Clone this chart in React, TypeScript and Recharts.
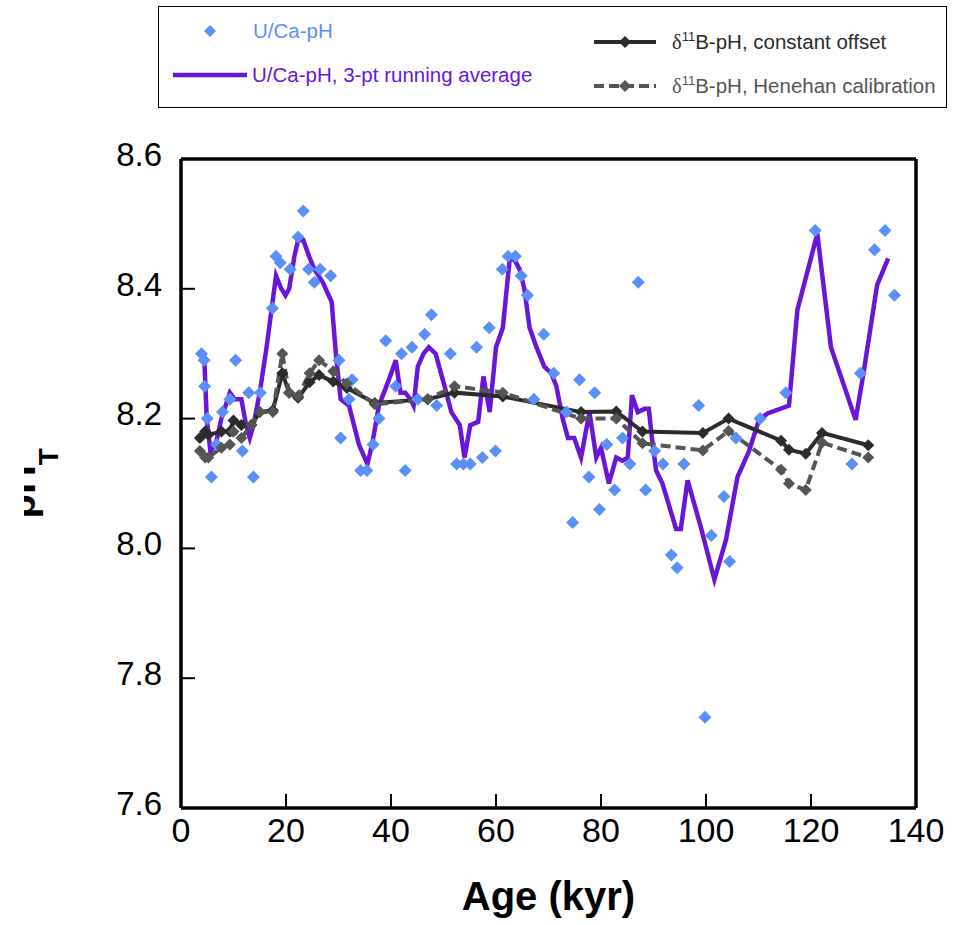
import React from 'react';
import {
  ComposedChart,
  Line,
  Scatter,
  XAxis,
  YAxis,
  ReferenceLine,
  Legend,
} from 'recharts';

// U/Ca-derived pH, individual samples
const ucaAge = [
  3.9, 4.4, 4.5, 5.0, 5.8, 6.8, 7.9, 9.3, 10.4, 11.7, 12.9, 13.8, 15.1, 17.4, 18.1, 18.9, 20.8, 22.3,
  23.3, 24.3, 25.4, 26.5, 28.5, 30.1, 30.4, 32.0, 32.6, 34.2, 35.4, 36.6, 37.7, 39.0, 40.9, 42.0, 42.7,
  44.0, 45.1, 46.4, 47.7, 48.7, 51.3, 52.5, 53.8, 55.1, 56.3, 57.4, 58.7, 59.9, 61.2, 62.3, 63.7, 64.8,
  66.0, 67.2, 69.1, 71.0, 73.4, 74.6, 75.9, 77.7, 78.8, 79.7, 81.1, 82.6, 84.1, 85.5, 87.1, 88.5, 90.2,
  91.8, 93.4, 94.5, 95.8, 98.6, 99.8, 101.0, 103.4, 104.5, 105.7, 110.3, 115.2, 120.8, 127.8, 129.4,
  132.1, 134.1, 135.9,
];
const ucaPh = [
  8.3, 8.29, 8.25, 8.2, 8.11, 8.16, 8.21, 8.23, 8.29, 8.15, 8.24, 8.11, 8.24, 8.37, 8.45, 8.44, 8.43, 8.48,
  8.52, 8.43, 8.41, 8.43, 8.42, 8.29, 8.17, 8.23, 8.26, 8.12, 8.12, 8.16, 8.2, 8.32, 8.25, 8.3, 8.12,
  8.31, 8.23, 8.33, 8.36, 8.22, 8.3, 8.13, 8.13, 8.13, 8.31, 8.14, 8.34, 8.15, 8.43, 8.45, 8.45, 8.42,
  8.39, 8.23, 8.33, 8.27, 8.21, 8.04, 8.26, 8.11, 8.24, 8.06, 8.16, 8.09, 8.17, 8.13, 8.41, 8.09, 8.15,
  8.13, 7.99, 7.97, 8.13, 8.22, 7.74, 8.02, 8.08, 7.98, 8.17, 8.2, 8.24, 8.49, 8.13, 8.27,
  8.46, 8.49, 8.39,
];

// U/Ca-pH, 3-pt running average
const avgAge = [
  4.4, 4.9, 5.6, 6.6, 7.7, 9.3, 10.2, 11.5, 12.4, 13.1, 13.8, 15.0, 16.3, 18.1, 19.1, 19.9, 20.6, 21.6,
  22.3, 23.3, 24.4, 25.4, 27.0, 28.7, 29.5, 30.4, 32.0, 33.9, 35.5, 36.4, 37.7, 39.6, 40.9, 41.8, 42.7,
  43.7, 44.3, 45.1, 46.2, 47.2, 48.5, 50.2, 51.5, 53.1, 54.0, 55.1, 56.6, 57.6, 58.8, 60.0, 61.3, 62.6,
  63.5, 64.5, 65.4, 66.4, 67.7, 69.2, 70.5, 71.5, 72.7, 73.7, 74.9, 76.2, 77.8, 79.1, 80.0, 81.5, 82.9,
  84.1, 85.1, 85.9, 87.0, 88.3, 89.1, 89.7, 90.5, 91.7, 93.0, 94.3, 95.2, 96.5, 99.0, 101.6, 103.8,
  106.0, 108.2, 110.1, 111.7, 115.8, 117.4, 121.2, 123.8, 128.5, 130.0, 132.6, 134.7,
];
const avgPh = [
  8.3, 8.2, 8.15, 8.16, 8.2, 8.24, 8.23, 8.23, 8.19, 8.17, 8.19, 8.24, 8.31, 8.42, 8.4, 8.39, 8.4, 8.45,
  8.475, 8.475, 8.45, 8.43, 8.41, 8.38, 8.3, 8.23, 8.22, 8.16, 8.13, 8.16, 8.22, 8.26, 8.29, 8.24, 8.24,
  8.23, 8.22, 8.28, 8.3, 8.31, 8.3, 8.25, 8.21, 8.19, 8.14, 8.19, 8.195, 8.265, 8.21, 8.31, 8.34, 8.445,
  8.445, 8.43, 8.4, 8.34, 8.31, 8.28, 8.27, 8.25, 8.2, 8.17, 8.17, 8.14, 8.21, 8.14, 8.155, 8.1, 8.14,
  8.135, 8.14, 8.236, 8.21, 8.215, 8.215, 8.17, 8.12, 8.1, 8.065, 8.03, 8.03, 8.105, 8.033, 7.952, 8.013,
  8.11, 8.15, 8.198, 8.208, 8.22, 8.367, 8.485, 8.31, 8.198, 8.27, 8.406, 8.447,
];

// d11B-pH, both calibrations share the same sample ages
const boronAge = [
  3.6, 4.6, 5.2, 7.7, 9.3, 10.0, 11.5, 13.4, 15.0, 17.5, 19.3, 20.6, 22.3, 24.5, 26.3, 29.0, 31.6, 36.9,
  47.0, 52.1, 61.3, 76.2, 82.9, 87.9, 99.4, 104.3, 114.3, 115.8, 119.0, 122.1, 130.9,
];
const boronOffset = [
  8.17, 8.18, 8.175, 8.18, 8.18, 8.197, 8.19, 8.19, 8.21, 8.213, 8.27, 8.24, 8.232, 8.256, 8.267, 8.257,
  8.247, 8.224, 8.23, 8.24, 8.234, 8.21, 8.211, 8.18, 8.178, 8.2, 8.166, 8.152, 8.146, 8.178, 8.159,
];
const boronHenehan = [
  8.15, 8.14, 8.14, 8.155, 8.16, 8.18, 8.17, 8.19, 8.21, 8.21, 8.3, 8.24, 8.235, 8.27, 8.29, 8.273,
  8.254, 8.222, 8.23, 8.25, 8.24, 8.2, 8.2, 8.162, 8.151, 8.181, 8.121, 8.1, 8.09, 8.163, 8.14,
];

const xTicks = [0, 20, 40, 60, 80, 100, 120, 140];
const yTicks = [7.6, 7.8, 8.0, 8.2, 8.4, 8.6];

const BLUE = '#5b8ff9';
const PURPLE = '#6a16d8';
const DARK = '#2b2b2b';
const GREY = '#555555';
const FONT = '"Liberation Sans", Arial, Helvetica, sans-serif';
const TICK_LEN = 14;

const diamondPoints = (cx: number, cy: number, r: number) =>
  `${cx},${cy - r} ${cx + r},${cy} ${cx},${cy + r} ${cx - r},${cy}`;

const BlueDiamond = (props: any) => {
  const { cx, cy } = props;
  if (cx == null || cy == null) return null;
  return <polygon points={diamondPoints(cx, cy, 6.5)} fill={BLUE} />;
};

const makeDot = (color: string) => (props: any) => {
  const { cx, cy, index } = props;
  if (cx == null || cy == null) return <g key={index} />;
  return <polygon key={index} points={diamondPoints(cx, cy, 6)} fill={color} />;
};

// ticks point into the plot, so draw the tick line together with the label
const X_MARGIN = 10;
const XTick = (props: any) => {
  const { x, y, payload } = props;
  const axisY = y - X_MARGIN;
  return (
    <g>
      <line x1={x} x2={x} y1={axisY} y2={axisY - TICK_LEN} stroke="#000" strokeWidth={2} />
      <text x={x} y={y} dy="0.72em" textAnchor="middle" fontSize={34} fontFamily={FONT} fill="#000">
        {payload.value}
      </text>
    </g>
  );
};

const Y_MARGIN = 19;
const YTick = (props: any) => {
  const { x, y, payload } = props;
  const axisX = x + Y_MARGIN;
  return (
    <g>
      <line x1={axisX} x2={axisX + TICK_LEN} y1={y} y2={y} stroke="#000" strokeWidth={2} />
      <text x={x} y={y - 5} dy="0.355em" textAnchor="end" fontSize={33} fontFamily={FONT} fill="#000">
        {Number(payload.value).toFixed(1)}
      </text>
    </g>
  );
};

const PhLabel = (props: any) => {
  const vb = props.viewBox || { x: 81, y: 159, width: 100, height: 649 };
  const bx = vb.x - 46;
  const by = vb.y + vb.height / 2 + 35;
  return (
    <g clipPath="url(#ph-clip)">
      <defs>
        <clipPath id="ph-clip">
          <rect x={vb.x - 57} y={0} width={200} height={925} />
        </clipPath>
      </defs>
      <text
        transform={`translate(${bx},${by}) rotate(-90)`}
        fontFamily={FONT}
        fontWeight="bold"
        fontSize={40}
        fill="#000"
      >
        pH
        <tspan dy={23} fontSize={28}>T</tspan>
      </text>
    </g>
  );
};

const AgeLabel = (props: any) => {
  const vb = props.viewBox || { x: 181, y: 808, width: 735, height: 117 };
  return (
    <text
      x={vb.x + vb.width / 2}
      y={vb.y + 102}
      textAnchor="middle"
      fontFamily={FONT}
      fontWeight="bold"
      fontSize={40}
      fill="#000"
    >
      Age (kyr)
    </text>
  );
};

const legendText = (color: string): React.CSSProperties => ({
  position: 'absolute',
  color,
  whiteSpace: 'nowrap',
  transform: 'translateY(-50%)',
  lineHeight: '24px',
});

const Delta = () => (
  <>
    <span style={{ fontFamily: '"Liberation Serif", serif' }}>δ</span>
    <sup style={{ fontSize: 13, verticalAlign: 'top', lineHeight: '14px' }}>11</sup>
  </>
);

const LegendBox = () => (
  <div
    style={{
      position: 'relative',
      width: 789,
      height: 102,
      border: '1.5px solid #000',
      boxSizing: 'border-box',
      background: '#fff',
      fontFamily: FONT,
      fontSize: 20.5,
    }}
  >
    <svg width={786} height={99} style={{ position: 'absolute', left: 0, top: 0 }}>
      <polygon points={diamondPoints(51, 24, 6)} fill={BLUE} />
      <line x1={14} x2={88} y1={68} y2={68} stroke={PURPLE} strokeWidth={4.5} />
      <line x1={435} x2={497} y1={35} y2={35} stroke={DARK} strokeWidth={4} />
      <polygon points={diamondPoints(466, 35, 6)} fill={DARK} />
      <line x1={435} x2={497} y1={79} y2={79} stroke={GREY} strokeWidth={4} strokeDasharray="10 5" />
      <polygon points={diamondPoints(466, 79, 6)} fill={GREY} />
    </svg>
    <span style={{ ...legendText(BLUE), left: 94, top: 24 }}>U/Ca-pH</span>
    <span style={{ ...legendText(PURPLE), left: 93, top: 68 }}>U/Ca-pH, 3-pt running average</span>
    <span style={{ ...legendText(DARK), left: 513, top: 35 }}>
      <Delta />B-pH, constant offset
    </span>
    <span style={{ ...legendText(GREY), left: 513, top: 79 }}>
      <Delta />B-pH, Henehan calibration
    </span>
  </div>
);

const ucaData = ucaAge.map((age, i) => ({ age, ph: ucaPh[i] }));
const avgData = avgAge.map((age, i) => ({ age, ph: avgPh[i] }));
const offsetData = boronAge.map((age, i) => ({ age, ph: boronOffset[i] }));
const henehanData = boronAge.map((age, i) => ({ age, ph: boronHenehan[i] }));

const App: React.FC = () => {
  return (
    <div style={{ position: 'absolute', left: 0, top: 0, width: 965, height: 925, background: '#fff' }}>
      <ComposedChart width={965} height={925} margin={{ top: 159, right: 49, bottom: 0, left: 81 }}>
        <XAxis
          xAxisId={0}
          type="number"
          dataKey="age"
          domain={[0, 140]}
          ticks={xTicks}
          allowDataOverflow
          height={117}
          axisLine={{ stroke: '#000', strokeWidth: 3.5 }}
          tickLine={false}
          tickSize={0}
          tickMargin={X_MARGIN}
          tick={<XTick />}
          label={<AgeLabel />}
        />
        <YAxis
          yAxisId={0}
          type="number"
          domain={[7.6, 8.6]}
          ticks={yTicks}
          allowDataOverflow
          width={100}
          axisLine={{ stroke: '#000', strokeWidth: 3.5 }}
          tickLine={false}
          tickSize={0}
          tickMargin={Y_MARGIN}
          tick={<YTick />}
          label={<PhLabel />}
        />
        <ReferenceLine y={8.6} stroke="#000" strokeWidth={3.5} ifOverflow="visible" />
        <ReferenceLine x={140} stroke="#000" strokeWidth={3.5} ifOverflow="visible" />
        <Legend
          layout="vertical"
          align="center"
          verticalAlign="middle"
          wrapperStyle={{ left: 158, top: 6, width: 789, height: 102 }}
          content={() => <LegendBox />}
        />
        <Line
          data={avgData}
          dataKey="ph"
          type="linear"
          stroke={PURPLE}
          strokeWidth={4.5}
          dot={false}
          activeDot={false}
          isAnimationActive={false}
        />
        <Line
          data={offsetData}
          dataKey="ph"
          type="linear"
          stroke={DARK}
          strokeWidth={4}
          dot={makeDot(DARK)}
          activeDot={false}
          isAnimationActive={false}
        />
        <Line
          data={henehanData}
          dataKey="ph"
          type="linear"
          stroke={GREY}
          strokeWidth={4}
          strokeDasharray="10 5"
          dot={makeDot(GREY)}
          activeDot={false}
          isAnimationActive={false}
        />
        <Scatter data={ucaData} dataKey="ph" shape={<BlueDiamond />} isAnimationActive={false} />
      </ComposedChart>
    </div>
  );
};

export default App;
